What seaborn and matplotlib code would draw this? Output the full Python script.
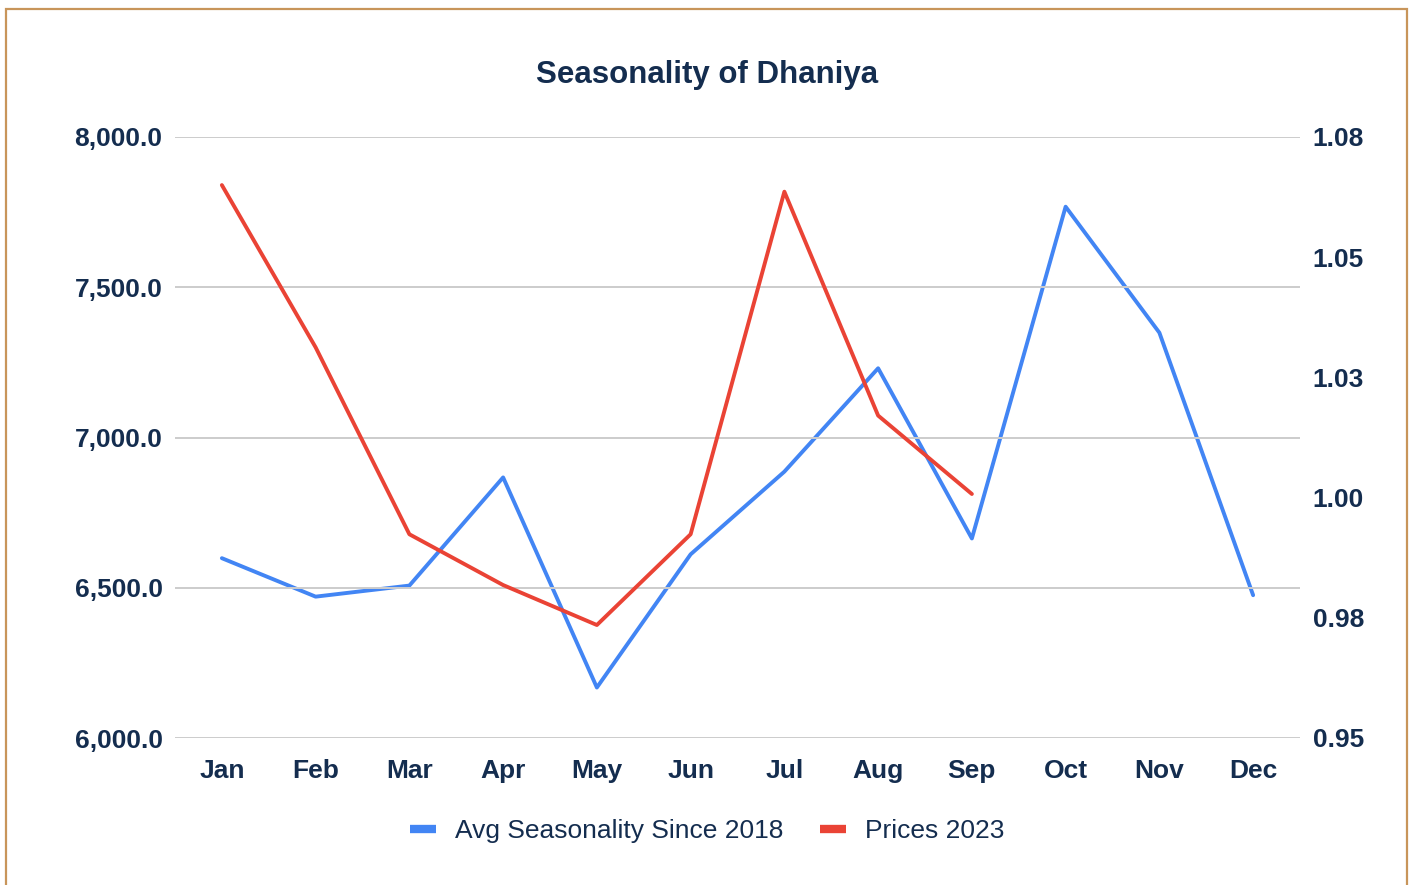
import matplotlib
matplotlib.use("Agg")
import pandas as pd
import seaborn as sns
import matplotlib.pyplot as plt
from matplotlib.lines import Line2D
from matplotlib.patches import Rectangle
from matplotlib.ticker import MultipleLocator, FuncFormatter

# Data
months = ["Jan", "Feb", "Mar", "Apr", "May", "Jun",
          "Jul", "Aug", "Sep", "Oct", "Nov", "Dec"]
avg_seasonality = [0.9874, 0.9794, 0.9817, 1.0042, 0.9605, 0.9882,
                   1.0054, 1.0269, 0.9915, 1.0605, 1.0343, 0.9797]
prices_2023 = [7840, 7300, 6678, 6509, 6376, 6678, 7818, 7073, 6812]

BLUE = "#4285F4"
RED = "#EA4335"
NAVY = "#142d4f"
GRID = "#cccccc"
FRAME = "#c8955a"

sns.set_theme(style="white")
plt.rcParams['font.family'] = ['Liberation Sans', 'DejaVu Sans']

df_avg = pd.DataFrame({"pos": range(len(months)), "Value": avg_seasonality})
df_price = pd.DataFrame({"pos": range(len(prices_2023)), "Price": prices_2023})

fig = plt.figure(figsize=(14.14, 8.85), dpi=100)
ax = fig.add_axes([175 / 1414, 1 - 738 / 885, 1125 / 1414, 601 / 885])
ax2 = ax.twinx()

# blue on the right axis, red on the left axis (drawn on top)
sns.lineplot(data=df_avg, x="pos", y="Value", ax=ax2, color=BLUE, lw=2.8)
sns.lineplot(data=df_price, x="pos", y="Price", ax=ax, color=RED, lw=2.8)
ax.set_zorder(ax2.get_zorder() + 1)
ax.patch.set_visible(False)

ax.set_xlim(-0.5, len(months) - 0.5)
ax.set_ylim(6000, 8000)
ax2.set_ylim(0.95, 1.075)

ax.set_xticks(range(len(months)))
ax.set_xticklabels(months)
ax.yaxis.set_major_locator(MultipleLocator(500))
ax.yaxis.set_major_formatter(FuncFormatter(lambda v, p: f"{v:,.1f}"))
ax2.yaxis.set_major_locator(MultipleLocator(0.025))
ax2.yaxis.set_major_formatter(FuncFormatter(lambda v, p: f"{v + 1e-9:.2f}"))

ax.set_xlabel("")
ax.set_ylabel("")
ax2.set_ylabel("")

ax.yaxis.grid(True, color=GRID, lw=1.4)
ax.xaxis.grid(False)
ax2.grid(False)
for a in (ax, ax2):
    for s in a.spines.values():
        s.set_visible(False)
    a.tick_params(length=0, labelsize=19, labelcolor=NAVY)
    for lab in a.get_xticklabels() + a.get_yticklabels():
        lab.set_fontweight("bold")
ax.tick_params(axis="y", pad=9)
ax2.tick_params(axis="y", pad=9)
ax.tick_params(axis="x", pad=15)

fig.text(0.5, 1 - 75 / 885, "Seasonality of Dhaniya", ha="center", va="center",
         fontsize=22.5, fontweight="bold", color=NAVY)

handles = [Line2D([], [], color=BLUE, lw=6, solid_capstyle="butt"),
           Line2D([], [], color=RED, lw=6, solid_capstyle="butt")]
leg = fig.legend(handles, ["Avg Seasonality Since 2018", "Prices 2023"],
                 loc="center", bbox_to_anchor=(0.5, 1 - 831 / 885), ncol=2,
                 frameon=False, fontsize=19, handlelength=1.0,
                 handletextpad=0.7, columnspacing=1.4)
for t in leg.get_texts():
    t.set_color(NAVY)

fig.add_artist(Rectangle((6 / 1414, -0.05), 1401 / 1414, 1.05 - 9 / 885,
                         transform=fig.transFigure, fill=False,
                         edgecolor=FRAME, lw=1.6))

fig.savefig("out.png", dpi=100, facecolor="white")
